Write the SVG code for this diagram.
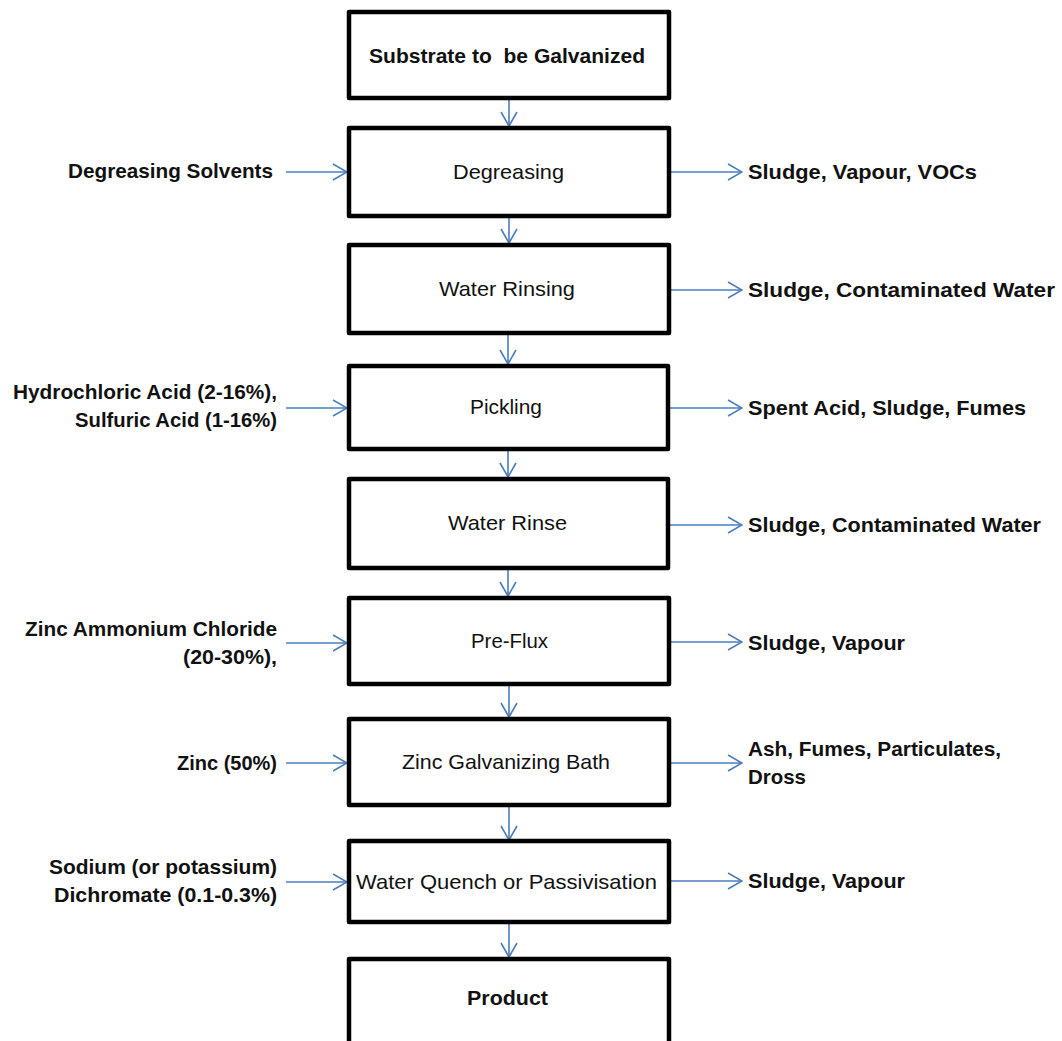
<svg xmlns="http://www.w3.org/2000/svg" width="1062" height="1041" viewBox="0 0 1062 1041">
<defs>
<marker id="ah" markerUnits="userSpaceOnUse" viewBox="0 0 16 18" refX="15" refY="9" markerWidth="16" markerHeight="18" orient="auto">
<path d="M1,1 L15,9 L1,17" fill="none" stroke="#4a7ebb" stroke-width="1.6"/>
</marker>
<style>
.box{fill:#fff;stroke:#000;stroke-width:4.5;stroke-linejoin:round}
.t{font-family:"Liberation Sans",Arial,sans-serif;font-size:21px;fill:#111}
.b{font-weight:bold}
.c{stroke:#4a7ebb;stroke-width:1.6;fill:none;marker-end:url(#ah)}
</style>
</defs>
<rect width="1062" height="1041" fill="#fff"/>
<g id="connectors">
<line class="c" x1="509" y1="100" x2="509" y2="126"/>
<line class="c" x1="509" y1="218" x2="509" y2="243"/>
<line class="c" x1="508" y1="335" x2="508" y2="364"/>
<line class="c" x1="508" y1="451" x2="508" y2="477"/>
<line class="c" x1="508" y1="570" x2="508" y2="596"/>
<line class="c" x1="509" y1="686" x2="509" y2="717"/>
<line class="c" x1="509" y1="807" x2="509" y2="840"/>
<line class="c" x1="509" y1="923" x2="509" y2="957"/>
<line class="c" x1="286" y1="172" x2="347" y2="172"/>
<line class="c" x1="286" y1="408" x2="347" y2="408"/>
<line class="c" x1="286" y1="643" x2="347" y2="643"/>
<line class="c" x1="286" y1="763" x2="347" y2="763"/>
<line class="c" x1="286" y1="882" x2="347" y2="882"/>
<line class="c" x1="671" y1="172" x2="742" y2="172"/>
<line class="c" x1="671" y1="290" x2="742" y2="290"/>
<line class="c" x1="669" y1="408" x2="742" y2="408"/>
<line class="c" x1="669" y1="525" x2="742" y2="525"/>
<line class="c" x1="671" y1="642" x2="742" y2="642"/>
<line class="c" x1="671" y1="763" x2="742" y2="763"/>
<line class="c" x1="671" y1="881" x2="742" y2="881"/>
</g>
<g id="n1"><rect class="box" x="349" y="12" width="320" height="86"/><text class="t b" x="369" y="63" textLength="276" lengthAdjust="spacingAndGlyphs" xml:space="preserve">Substrate to  be Galvanized</text></g>
<g id="n2"><rect class="box" x="349" y="128" width="320" height="88"/><text class="t" x="453" y="179" textLength="111" lengthAdjust="spacingAndGlyphs">Degreasing</text></g>
<g id="n3"><rect class="box" x="349" y="245" width="320" height="88"/><text class="t" x="439" y="296" textLength="136" lengthAdjust="spacingAndGlyphs">Water Rinsing</text></g>
<g id="n4"><rect class="box" x="349" y="366" width="319" height="83"/><text class="t" x="470" y="414" textLength="72" lengthAdjust="spacingAndGlyphs">Pickling</text></g>
<g id="n5"><rect class="box" x="349" y="479" width="319" height="89"/><text class="t" x="448" y="530" textLength="119" lengthAdjust="spacingAndGlyphs">Water Rinse</text></g>
<g id="n6"><rect class="box" x="349" y="598" width="320" height="86"/><text class="t" x="471" y="648" textLength="77" lengthAdjust="spacingAndGlyphs">Pre-Flux</text></g>
<g id="n7"><rect class="box" x="349" y="719" width="320" height="86"/><text class="t" x="402" y="769" textLength="208" lengthAdjust="spacingAndGlyphs">Zinc Galvanizing Bath</text></g>
<g id="n8"><rect class="box" x="349" y="841" width="320" height="81"/><text class="t" x="356" y="889" textLength="301" lengthAdjust="spacingAndGlyphs">Water Quench or Passivisation</text></g>
<g id="n9"><rect class="box" x="349" y="959" width="320" height="86"/><text class="t b" x="467" y="1005" textLength="81" lengthAdjust="spacingAndGlyphs">Product</text></g>
<g id="in-degreasing"><text class="t b" x="68" y="178" textLength="205" lengthAdjust="spacingAndGlyphs">Degreasing Solvents</text></g>
<g id="in-pickling"><text class="t b" x="13" y="399" textLength="264" lengthAdjust="spacingAndGlyphs">Hydrochloric Acid (2-16%),</text><text class="t b" x="75" y="427" textLength="202" lengthAdjust="spacingAndGlyphs">Sulfuric Acid (1-16%)</text></g>
<g id="in-preflux"><text class="t b" x="25" y="636" textLength="252" lengthAdjust="spacingAndGlyphs">Zinc Ammonium Chloride</text><text class="t b" x="183" y="664" textLength="94" lengthAdjust="spacingAndGlyphs">(20-30%),</text></g>
<g id="in-zinc"><text class="t b" x="177" y="770" textLength="100" lengthAdjust="spacingAndGlyphs">Zinc (50%)</text></g>
<g id="in-quench"><text class="t b" x="49" y="874" textLength="228" lengthAdjust="spacingAndGlyphs">Sodium (or potassium)</text><text class="t b" x="54" y="902" textLength="223" lengthAdjust="spacingAndGlyphs">Dichromate (0.1-0.3%)</text></g>
<g id="out-degreasing"><text class="t b" x="748" y="179" textLength="229" lengthAdjust="spacingAndGlyphs">Sludge, Vapour, VOCs</text></g>
<g id="out-rinsing"><text class="t b" x="748" y="297" textLength="307" lengthAdjust="spacingAndGlyphs">Sludge, Contaminated Water</text></g>
<g id="out-pickling"><text class="t b" x="748" y="415" textLength="278" lengthAdjust="spacingAndGlyphs">Spent Acid, Sludge, Fumes</text></g>
<g id="out-rinse"><text class="t b" x="748" y="532" textLength="293" lengthAdjust="spacingAndGlyphs">Sludge, Contaminated Water</text></g>
<g id="out-preflux"><text class="t b" x="748" y="650" textLength="157" lengthAdjust="spacingAndGlyphs">Sludge, Vapour</text></g>
<g id="out-zinc"><text class="t b" x="748" y="756" textLength="253" lengthAdjust="spacingAndGlyphs">Ash, Fumes, Particulates,</text><text class="t b" x="748" y="784" textLength="58" lengthAdjust="spacingAndGlyphs">Dross</text></g>
<g id="out-quench"><text class="t b" x="748" y="888" textLength="157" lengthAdjust="spacingAndGlyphs">Sludge, Vapour</text></g>
</svg>
